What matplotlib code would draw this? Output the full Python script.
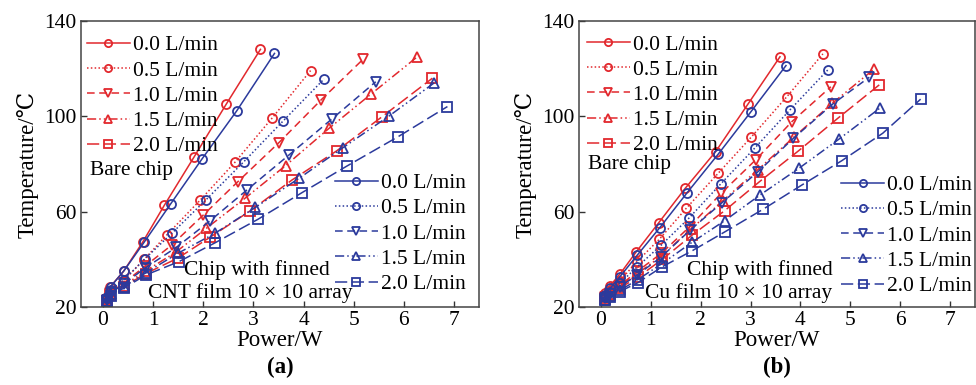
import matplotlib
matplotlib.use("Agg")
import matplotlib.pyplot as plt

plt.rcParams['font.family'] = ['Liberation Serif', 'DejaVu Serif']

RED = '#e2282d'
BLUE = '#2b3a9c'
FS = 15.5

flows = ['0.0 L/min', '0.5 L/min', '1.0 L/min', '1.5 L/min', '2.0 L/min']

# ---- (a) bare chip vs. finned CNT film ----
a_bare_x = [
    [0.07, 0.14, 0.41, 0.79, 1.22, 1.82, 2.46, 3.14],
    [0.07, 0.14, 0.41, 0.82, 1.27, 1.94, 2.63, 3.37, 4.14],
    [0.07, 0.14, 0.41, 0.83, 1.37, 1.99, 2.69, 3.51, 4.35, 5.19],
    [0.07, 0.14, 0.41, 0.84, 1.45, 2.06, 2.83, 3.64, 4.51, 5.35, 6.27],
    [0.07, 0.14, 0.41, 0.85, 1.50, 2.13, 2.94, 3.77, 4.66, 5.57, 6.57],
]
a_bare_y = [
    [24.2, 28.4, 35.0, 47.2, 62.6, 83.1, 105.2, 128.1],
    [23.5, 26.8, 31.0, 40.0, 50.2, 64.9, 80.7, 99.2, 119.2],
    [23.0, 26.0, 30.0, 37.0, 46.0, 58.4, 72.6, 89.0, 106.9, 124.0],
    [22.8, 25.5, 29.0, 35.0, 43.0, 53.0, 65.6, 79.3, 95.0, 109.4, 125.0],
    [22.5, 25.0, 28.5, 34.0, 40.6, 49.2, 60.4, 73.3, 85.5, 99.9, 116.0],
]
a_fin_x = [
    [0.08, 0.15, 0.42, 0.82, 1.35, 1.97, 2.67, 3.42],
    [0.08, 0.15, 0.42, 0.84, 1.37, 2.05, 2.81, 3.59, 4.41],
    [0.08, 0.15, 0.42, 0.85, 1.46, 2.13, 2.87, 3.71, 4.56, 5.44],
    [0.08, 0.15, 0.42, 0.85, 1.49, 2.23, 3.04, 3.91, 4.79, 5.71, 6.61],
    [0.08, 0.15, 0.42, 0.86, 1.51, 2.24, 3.09, 3.97, 4.87, 5.89, 6.87],
]
a_fin_y = [
    [24.3, 28.5, 35.3, 47.2, 63.3, 82.0, 102.4, 126.4],
    [23.6, 27.0, 31.5, 40.3, 50.9, 64.9, 81.0, 98.0, 115.7],
    [23.0, 25.8, 29.8, 36.5, 45.0, 56.1, 69.1, 83.8, 98.8, 114.5],
    [22.7, 25.3, 28.5, 34.3, 42.5, 50.9, 61.8, 74.0, 86.9, 100.2, 114.1],
    [22.4, 24.8, 28.0, 33.5, 39.0, 47.0, 56.8, 68.0, 79.2, 91.5, 104.1],
]

# ---- (b) bare chip vs. finned Cu film ----
b_bare_x = [
    [0.08, 0.18, 0.38, 0.71, 1.16, 1.69, 2.30, 2.95, 3.59],
    [0.08, 0.18, 0.38, 0.72, 1.17, 1.71, 2.35, 3.01, 3.73, 4.45],
    [0.08, 0.18, 0.38, 0.73, 1.21, 1.78, 2.41, 3.10, 3.83, 4.61],
    [0.08, 0.18, 0.38, 0.73, 1.22, 1.80, 2.44, 3.14, 3.88, 4.64, 5.48],
    [0.08, 0.18, 0.38, 0.74, 1.23, 1.83, 2.48, 3.18, 3.96, 4.75, 5.58],
]
b_bare_y = [
    [25.7, 28.8, 33.8, 43.2, 55.4, 69.8, 85.2, 105.2, 125.0],
    [24.6, 27.0, 31.0, 39.0, 48.4, 61.4, 76.1, 91.2, 108.3, 126.2],
    [24.0, 26.0, 29.0, 35.0, 42.5, 53.7, 67.7, 81.7, 97.8, 112.4],
    [24.0, 25.6, 28.7, 34.0, 41.5, 52.6, 64.5, 77.5, 91.5, 105.5, 119.9],
    [23.5, 25.2, 28.0, 32.5, 40.0, 50.2, 60.4, 72.6, 85.5, 99.2, 113.2],
]
b_fin_x = [
    [0.08, 0.18, 0.38, 0.73, 1.18, 1.73, 2.35, 3.01, 3.71],
    [0.08, 0.18, 0.38, 0.73, 1.21, 1.76, 2.40, 3.08, 3.79, 4.55],
    [0.08, 0.18, 0.38, 0.73, 1.21, 1.79, 2.43, 3.15, 3.86, 4.65, 5.38],
    [0.08, 0.18, 0.38, 0.74, 1.23, 1.83, 2.48, 3.19, 3.97, 4.77, 5.59],
    [0.08, 0.18, 0.38, 0.74, 1.23, 1.83, 2.49, 3.25, 4.03, 4.83, 5.65, 6.41],
]
b_fin_y = [
    [25.0, 27.8, 32.7, 41.8, 53.3, 68.0, 84.1, 102.0, 121.3],
    [24.0, 26.5, 30.0, 36.9, 46.0, 57.2, 71.6, 86.6, 102.7, 119.5],
    [23.8, 25.5, 28.5, 33.5, 41.0, 52.3, 63.8, 76.8, 90.8, 105.2, 116.4],
    [23.0, 24.5, 27.0, 31.5, 38.3, 47.2, 56.2, 67.0, 78.2, 90.4, 103.4],
    [22.8, 24.2, 26.5, 30.2, 36.9, 43.6, 51.6, 61.0, 71.2, 81.4, 92.9, 107.2],
]

styles = ['-', (0, (1, 1.5)), (0, (5, 3)), (0, (6, 2, 1, 2, 1, 2)), (0, (8, 3))]
markers = ['o', 'o', 'v', '^', 's']

fig = plt.figure(figsize=(9.76, 3.85), dpi=100)
W, H = 976, 385
ax_a = fig.add_axes([81 / W, 1 - 307 / H, 398 / W, 286 / H])
ax_b = fig.add_axes([579 / W, 1 - 307 / H, 396 / W, 286 / H])

panels = [
    (ax_a, a_bare_x, a_bare_y, a_fin_x, a_fin_y, 'CNT film 10 × 10 array', '(a)',
     (0.015, 0.95), (0.638, 0.045), 0.476, 0.626, 0.681),
    (ax_b, b_bare_x, b_bare_y, b_fin_x, b_fin_y, 'Cu film 10 × 10 array', '(b)',
     (0.02, 0.953), (0.662, 0.038), 0.497, 0.641, 0.639),
]

for ax, bx, by, fx, fy, film, tag, red_pos, blue_pos, bare_y, t1x, t2x in panels:
    red_lines = []
    blue_lines = []
    for i in range(5):
        l, = ax.plot(bx[i], by[i], color=RED, ls=styles[i], lw=1.1, marker=markers[i],
                     ms=6.5, mfc='none', mew=1.3)
        red_lines.append(l)
    for i in range(5):
        l, = ax.plot(fx[i], fy[i], color=BLUE, ls=styles[i], lw=1.1, marker=markers[i],
                     ms=6.5, mfc='none', mew=1.3)
        blue_lines.append(l)

    leg1 = ax.legend(red_lines, flows, loc='upper left', bbox_to_anchor=red_pos,
                     frameon=False, fontsize=FS, borderpad=0, borderaxespad=0,
                     handlelength=2.0, handletextpad=0.15, labelspacing=0.24,
                     markerscale=0.8)
    ax.add_artist(leg1)
    ax.legend(blue_lines, flows, loc='lower left', bbox_to_anchor=blue_pos,
              frameon=False, fontsize=FS, borderpad=0, borderaxespad=0,
              handlelength=2.0, handletextpad=0.15, labelspacing=0.24,
              markerscale=0.8)

    ax.text(0.023, bare_y, 'Bare chip', transform=ax.transAxes, fontsize=FS,
            ha='left', va='center')
    ax.text(t1x, 0.13, 'Chip with finned', transform=ax.transAxes, fontsize=FS,
            ha='right', va='center')
    ax.text(t2x, 0.05, film, transform=ax.transAxes, fontsize=FS,
            ha='right', va='center')

    ax.set_xlim(-0.44, 7.5)
    ax.set_ylim(20, 140)
    ax.set_xticks(range(8))
    ax.set_yticks([20, 60, 100, 140])
    ax.tick_params(direction='in', labelsize=FS, length=4, width=1, color='#333333',
                   pad=3)
    for s in ax.spines.values():
        s.set_color('#444444')
        s.set_linewidth(1.1)
    ax.set_xlabel('Power/W', fontsize=16.5, labelpad=0)
    ax.set_ylabel('Temperature/℃', fontsize=16.5, labelpad=4)
    ax.text(0.5, -0.175, tag, transform=ax.transAxes, fontsize=16.5, fontweight='bold',
            ha='center', va='top')

fig.savefig('out.png', dpi=100)
